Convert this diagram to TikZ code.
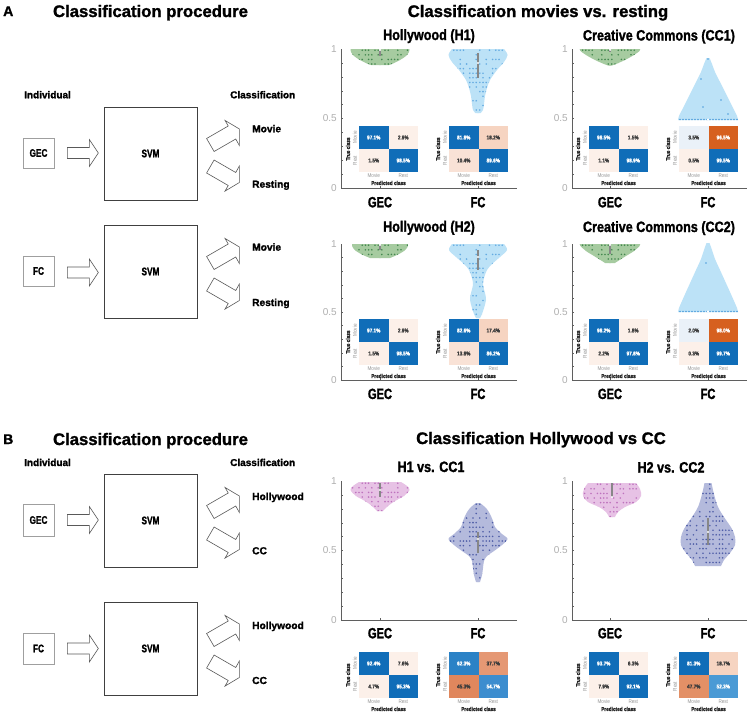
\documentclass[tikz,border=0pt]{standalone}
\usepackage{fontspec}
\setmainfont{Liberation Sans}
\newfontfamily\hvw[BoldFeatures={FakeBold=1.4}]{Liberation Sans}
\newfontfamily\hv[FakeStretch=0.84,BoldFeatures={FakeBold=1.4}]{Liberation Sans}
\newfontfamily\hvn[FakeStretch=0.75,BoldFeatures={FakeBold=1.4}]{Liberation Sans}
\newfontfamily\hvc[FakeStretch=0.84]{Liberation Sans}
\usetikzlibrary{calc}

\definecolor{cmblue}{RGB}{16,109,184}
\definecolor{cmpale}{RGB}{252,240,233}
\definecolor{cmten}{RGB}{249,226,214}
\definecolor{cmeight}{RGB}{246,212,193}
\definecolor{cmpb}{RGB}{234,241,248}
\definecolor{cmorange}{RGB}{214,96,31}
\definecolor{cmsalA}{RGB}{229,152,116}
\definecolor{cmsalB}{RGB}{224,135,93}
\definecolor{cmsalC}{RGB}{227,144,102}
\definecolor{cmblueB}{RGB}{43,130,198}
\definecolor{cmblueC}{RGB}{60,141,207}
\definecolor{cmblueD}{RGB}{74,154,213}
\definecolor{cmdark}{RGB}{60,60,60}
\definecolor{cmgray}{RGB}{150,150,150}
\definecolor{vgreen}{RGB}{166,203,160}
\definecolor{dgreen}{RGB}{45,120,60}
\definecolor{vblue}{RGB}{188,226,247}
\definecolor{dblue}{RGB}{80,158,220}
\definecolor{vpink}{RGB}{231,194,229}
\definecolor{dpink}{RGB}{180,95,180}
\definecolor{vlav}{RGB}{180,186,220}
\definecolor{dlav}{RGB}{55,72,155}
\definecolor{medc}{RGB}{135,135,135}
\definecolor{axc}{RGB}{95,95,95}
\definecolor{tickc}{RGB}{175,175,175}

\tikzset{
 ttl/.style={font=\hvw\bfseries\fontsize{16.7}{20}\selectfont, anchor=base, inner sep=0pt},
 letter/.style={font=\hvw\bfseries\fontsize{14}{16}\selectfont, anchor=base west, inner sep=0pt},
 lbl/.style={font=\hvw\bfseries\fontsize{10}{12}\selectfont, anchor=base west, inner sep=0pt},
 cls/.style={font=\hvw\bfseries\fontsize{10.2}{12}\selectfont, anchor=base west, inner sep=0pt},
 inbox/.style={draw=gray!75, line width=0.7pt, minimum width=31pt, minimum height=30pt, inner sep=0pt, font=\hvn\bfseries\fontsize{11}{12}\selectfont},
 svmbox/.style={draw=black!75, line width=0.7pt, minimum width=93pt, minimum height=93pt, inner sep=0pt, font=\hvn\bfseries\fontsize{11}{12}\selectfont},
 vtitle/.style={font=\hv\bfseries\fontsize{15}{17}\selectfont, anchor=base, inner sep=0pt},
 xlab/.style={font=\hvn\bfseries\fontsize{14.8}{17}\selectfont, anchor=base, inner sep=0pt},
 tick/.style={font=\fontsize{10}{12}\selectfont, text=tickc, anchor=east, inner sep=0pt},
 axline/.style={draw=axc, line width=0.6pt},
 cmv/.style={font=\hv\bfseries\fontsize{5.6}{6}\selectfont, inner sep=0pt},
 cmt/.style={font=\hv\bfseries\fontsize{5.6}{6}\selectfont, inner sep=0pt, text=black!85},
 cmg/.style={font=\hvc\fontsize{5.5}{6}\selectfont, inner sep=0pt, text=cmgray},
 arrc/.style={draw=black!65, line width=0.6pt, fill=white},
 harrow/.pic={\draw[arrc] (0,-5.5) -- (22,-5.5) -- (22,-13.5) -- (31,0) -- (22,13.5) -- (22,5.5) -- (0,5.5) -- cycle;},
 darrow/.pic={\draw[arrc] (-3.75,-6.5) -- (17.9,-19) -- (14.65,-24.6) -- (29,-16) -- (29,0.5) -- (25.4,-6) -- (3.75,6.5) -- cycle;}
}

% confusion matrix: #1 name, #2 x, #3 y, #4 list col/row/fill/text/value
\newcommand\cmat[4]{%
\begin{scope}[shift={(#2,#3)}]
 \foreach \ci/\cj/\cf/\ct/\cv in {#4}{
   \fill[fill=\cf] ({(\ci-1)*29.5},{(\cj-1)*23}) rectangle ++(29.5,23);
   \node[cmv,text=\ct] (#1\ci\cj) at ({(\ci-0.5)*29.5},{(\cj-0.5)*23}) {\cv};
 }
 \node[cmt,rotate=90] (#1tc) at (-11,23) {True class};
 \node[cmg,rotate=90] (#1tm) at (-4,11.5) {Movie};
 \node[cmg,rotate=90] (#1tr) at (-4,34.5) {Rest};
 \node[cmg] (#1pm) at (14.75,50) {Movie};
 \node[cmg] (#1pr) at (44.25,50) {Rest};
 \node[cmt] (#1pc) at (29.5,57) {Predicted class};
\end{scope}}

% violin: #1 cx, #2 fill, #3 dots, #4 ytop, #5 ybot, #6 right-side coords, #7 dot probability
\newcommand\violin[7]{%
\begin{scope}[shift={(#1,0)}]
 \foreach \sg/\sd in {1/11,-1/23}{
  \begin{scope}[xscale=\sg]
   \fill[fill=#2] (-0.7,#4) -- plot[smooth,tension=0.55] coordinates {#6} -- (-0.7,#5) -- cycle;
   \begin{scope}
    \clip (0,#4) -- plot[smooth,tension=0.55] coordinates {#6} -- (0,#5) -- cycle;
    \pgfmathsetseed{\sd#1}
    \pgfmathsetmacro\ya{#4+1.2}
    \pgfmathsetmacro\yb{#4+5.8}
    \foreach \yy in {\ya,\yb,...,#5}{
      \foreach \xx in {1.8,5.0,...,31}{
        \pgfmathsetmacro\rr{rnd}
        \ifdim\rr pt<#7pt \fill[fill=#3,opacity=0.8] (\xx,\yy) circle[radius=0.9pt];\fi
      }}
   \end{scope}
  \end{scope}}
\end{scope}}

\newcommand\med[4]{\fill[medc] ({#1-1.2},#2) rectangle ({#1+1.2},#3); \fill[white] (#1,#4) circle[radius=1.2pt];}

% axis: #1 name, #2 x, #3 y(1), #4 y(0), #5 right end, #6 GEC x, #7 FC x
\newcommand\vaxis[7]{%
 \draw[axline] (#2,#3) -- (#2,#4) -- (#5,#4);
 \foreach \k in {1,...,9} \draw[draw=axc,line width=0.3pt] (#2,{#4+(#3-#4)*\k/10}) -- ++(1.5,0);
 \draw[axline] (#6,#4) -- ++(0,-2);
 \draw[axline] (#7,#4) -- ++(0,-2);
 \node[tick] (#1t1) at ({#2-4},#3) {1};
 \node[tick] (#1t5) at ({#2-4},{(#3+#4)/2}) {0.5};
 \node[tick] (#1t0) at ({#2-4},#4) {0};
}

\begin{document}
\begin{tikzpicture}[x=1pt,y=-1pt]
\useasboundingbox (0,0) rectangle (750,713);
\fill[white] (0,0) rectangle (750,713);

% ---------------- Panel A left ----------------
\node[letter] (lA) at (3,16) {A};
\node[ttl] (tA) at (150.5,17) {Classification procedure};
\node[lbl] (indA) at (24,98.3) {Individual};
\node[lbl] (clsA) at (230,98.3) {Classification};

\node[inbox] (gecA) at (38.5,153) {GEC};
\node[svmbox] (svmA1) at (150.5,153.5) {SVM};
\node[inbox] (fcA) at (38.5,271) {FC};
\node[svmbox] (svmA2) at (150.5,271.5) {SVM};
\pic at ($(gecA.east)+(13,0)$) {harrow};
\pic at ($(fcA.east)+(13,1.5)$) {harrow};
\pic at ($(svmA1.east)+(13,-8.5)$) {darrow};
\pic[yscale=-1] at ($(svmA1.east)+(13,13)$) {darrow};
\pic at ($(svmA2.east)+(13,-8.5)$) {darrow};
\pic[yscale=-1] at ($(svmA2.east)+(13,13)$) {darrow};
\node[cls] (mvA1) at (252,132.3) {Movie};
\node[cls] (rsA1) at (252,187.7) {Resting};
\node[cls] (mvA2) at (252,250.7) {Movie};
\node[cls] (rsA2) at (252,306) {Resting};

% ---------------- Panel A right ----------------
\node[ttl] (tAr) at (538,17) {Classification movies vs. resting};
\node[vtitle] (h1t) at (429,40) {Hollywood (H1)};
\node[vtitle] (c1t) at (659,40.5) {Creative Commons (CC1)};
\node[vtitle] (h2t) at (429,231.7) {Hollywood (H2)};
\node[vtitle] (c2t) at (659,232) {Creative Commons (CC2)};

\violin{380}{vgreen}{dgreen}{49}{65}{(29.5,49) (29,52) (26,56) (20,60) (13,63.5) (9,65)}{0.6}
\violin{478}{vblue}{dblue}{49}{113}{(26,49) (29.5,55) (26,62) (19,70) (12,80) (9,88) (7,96) (6,104) (5,110) (2.5,113)}{0.45}
\violin{380}{vgreen}{dgreen}{244}{258}{(28,244) (27.5,247) (24,251) (17,255) (10,258)}{0.6}
\violin{478}{vblue}{dblue}{244}{318}{(26,244) (29,250) (22,257) (14,264) (9,270) (6,278) (5,285) (7,293) (8,300) (6,308) (4,314) (2,318)}{0.45}
\violin{610}{vgreen}{dgreen}{49}{65.5}{(30,49) (29.5,51) (24,55) (15,60) (6,64) (2,65.5)}{0.6}
\violin{708}{vblue}{dblue}{58}{120}{(1.5,58) (4,64) (7,72) (12,82) (17,92) (22,102) (26,110) (29,116) (30,120)}{0}
\violin{610}{vgreen}{dgreen}{244}{263}{(30,244) (29.5,246) (24,251) (16,256) (8,261) (5,263)}{0.6}
\violin{708}{vblue}{dblue}{243}{312}{(1.5,243) (4,250) (7,259) (12,270) (17,281) (22,292) (26,301) (29,308) (30,312)}{0}

\foreach \xx in {680,683,...,737} \fill[dblue] (\xx,119.5) circle[radius=0.9pt];
\foreach \xx in {680,683,...,737} \fill[dblue] (\xx,311.5) circle[radius=0.9pt];
\foreach \px/\py in {708/59,701/79,721/100,703/107,728/114,706/263} \fill[dblue] (\px,\py) circle[radius=0.9pt];

\med{380}{49}{56}{49.8}
\med{478}{53}{78}{63}
\med{380}{244}{250}{244.8}
\med{478}{250}{270}{257}
\med{610}{49}{52}{49.8}
\med{610}{244}{254}{244.8}
\fill[white] (708,119.5) circle[radius=1.2pt];
\fill[white] (708,311.5) circle[radius=1.2pt];

\vaxis{axA1}{341}{49}{188}{517}{380}{478}
\vaxis{axA2}{341}{244}{380}{517}{380}{478}
\vaxis{axA3}{572}{49}{188}{747}{610}{708}
\vaxis{axA4}{572}{244}{380}{747}{610}{708}

\node[xlab] (xa1) at (380,207.3) {GEC};
\node[xlab] (xa2) at (478,207.3) {FC};
\node[xlab] (xa3) at (610,207.3) {GEC};
\node[xlab] (xa4) at (708,207.3) {FC};
\node[xlab] (xa5) at (380,399) {GEC};
\node[xlab] (xa6) at (478,399) {FC};
\node[xlab] (xa7) at (610,399) {GEC};
\node[xlab] (xa8) at (708,399) {FC};

\cmat{hA}{359}{126}{1/1/cmblue/white/97.1\%, 2/1/cmpale/cmdark/2.9\%, 1/2/cmpale/cmdark/1.5\%, 2/2/cmblue/white/98.5\%}
\cmat{hB}{449}{126}{1/1/cmblue/white/81.8\%, 2/1/cmeight/cmdark/18.2\%, 1/2/cmten/cmdark/10.4\%, 2/2/cmblue/white/89.6\%}
\cmat{hC}{359}{319}{1/1/cmblue/white/97.1\%, 2/1/cmpale/cmdark/2.9\%, 1/2/cmpale/cmdark/1.5\%, 2/2/cmblue/white/98.5\%}
\cmat{hD}{449}{319}{1/1/cmblue/white/82.6\%, 2/1/cmeight/cmdark/17.4\%, 1/2/cmten/cmdark/13.8\%, 2/2/cmblue/white/86.2\%}
\cmat{cA}{589}{126}{1/1/cmblue/white/98.5\%, 2/1/cmpale/cmdark/1.5\%, 1/2/cmpale/cmdark/1.1\%, 2/2/cmblue/white/98.9\%}
\cmat{cB}{679}{126}{1/1/cmpb/cmdark/3.5\%, 2/1/cmorange/white/96.5\%, 1/2/cmpale/cmdark/0.5\%, 2/2/cmblue/white/99.5\%}
\cmat{cC}{589}{319}{1/1/cmblue/white/98.2\%, 2/1/cmpale/cmdark/1.8\%, 1/2/cmpale/cmdark/2.2\%, 2/2/cmblue/white/97.8\%}
\cmat{cD}{679}{319}{1/1/cmpb/cmdark/2.0\%, 2/1/cmorange/white/98.0\%, 1/2/cmpale/cmdark/0.3\%, 2/2/cmblue/white/99.7\%}

% ---------------- Panel B left ----------------
\node[letter] (lB) at (3,444) {B};
\node[ttl] (tB) at (150.5,445) {Classification procedure};
\node[lbl] (indB) at (24,466) {Individual};
\node[lbl] (clsB) at (230,466) {Classification};

\node[inbox, minimum height=32pt] (gecB) at (38.5,520) {GEC};
\node[svmbox] (svmB1) at (150.5,520.5) {SVM};
\node[inbox, minimum height=31pt] (fcB) at (38.5,648.5) {FC};
\node[svmbox] (svmB2) at (150.5,648.5) {SVM};
\pic at ($(gecB.east)+(13,0)$) {harrow};
\pic at ($(fcB.east)+(13,0)$) {harrow};
\pic at ($(svmB1.east)+(13,-8.5)$) {darrow};
\pic[yscale=-1] at ($(svmB1.east)+(13,13)$) {darrow};
\pic at ($(svmB2.east)+(13,-8.5)$) {darrow};
\pic[yscale=-1] at ($(svmB2.east)+(13,13)$) {darrow};
\node[cls] (hwB1) at (252,500) {Hollywood};
\node[cls] (ccB1) at (252,554.3) {CC};
\node[cls] (hwB2) at (252,629) {Hollywood};
\node[cls] (ccB2) at (252,684) {CC};

% ---------------- Panel B right ----------------
\node[ttl] (tBr) at (541,444) {Classification Hollywood vs CC};
\node[vtitle] (b1t) at (431,472) {H1 vs. CC1};
\node[vtitle] (b2t) at (671,472.5) {H2 vs. CC2};

\violin{380}{vpink}{dpink}{482}{511}{(21,482) (27,486) (29.5,490) (24,496) (15,501) (8,506) (3,511)}{0.55}
\violin{478}{vlav}{dlav}{503}{582}{(2,503) (8,508) (12,514) (15,521) (17,527) (24,534) (29.5,539) (24,545) (16,551) (9,556) (6,561) (5,568) (4,575) (2,582)}{0.5}
\violin{612}{vpink}{dpink}{483}{517}{(24,483) (28,489) (29,496) (24,502) (13,507) (6,512) (3,517)}{0.55}
\violin{708}{vlav}{dlav}{483}{566}{(3.5,483) (5,490) (7,498) (10,507) (14,514) (18,520) (24,529) (27,537) (27,545) (22,553) (16,560) (13,566)}{0.5}

\med{380}{483}{497}{490}
\med{478}{532}{553}{539}
\med{612}{483}{497}{497}
\med{708}{518}{545}{532}

\vaxis{axB1}{341}{481}{620}{517}{380}{478}
\vaxis{axB2}{572}{481}{620}{747}{610}{708}

\node[xlab] (xb1) at (380,638.3) {GEC};
\node[xlab] (xb2) at (478,638.3) {FC};
\node[xlab] (xb3) at (610,638.3) {GEC};
\node[xlab] (xb4) at (708,638.3) {FC};

\cmat{bA}{359}{652}{1/1/cmblue/white/92.4\%, 2/1/cmpale/cmdark/7.6\%, 1/2/cmpale/cmdark/4.7\%, 2/2/cmblue/white/95.3\%}
\cmat{bB}{449}{652}{1/1/cmblueB/white/62.3\%, 2/1/cmsalA/cmdark/37.7\%, 1/2/cmsalB/cmdark/45.3\%, 2/2/cmblueC/white/54.7\%}
\cmat{bC}{589}{652}{1/1/cmblue/white/93.7\%, 2/1/cmpale/cmdark/6.3\%, 1/2/cmpale/cmdark/7.9\%, 2/2/cmblue/white/92.1\%}
\cmat{bD}{679}{652}{1/1/cmblue/white/81.3\%, 2/1/cmeight/cmdark/18.7\%, 1/2/cmsalC/cmdark/47.7\%, 2/2/cmblueD/white/52.3\%}
\end{tikzpicture}
\end{document}
